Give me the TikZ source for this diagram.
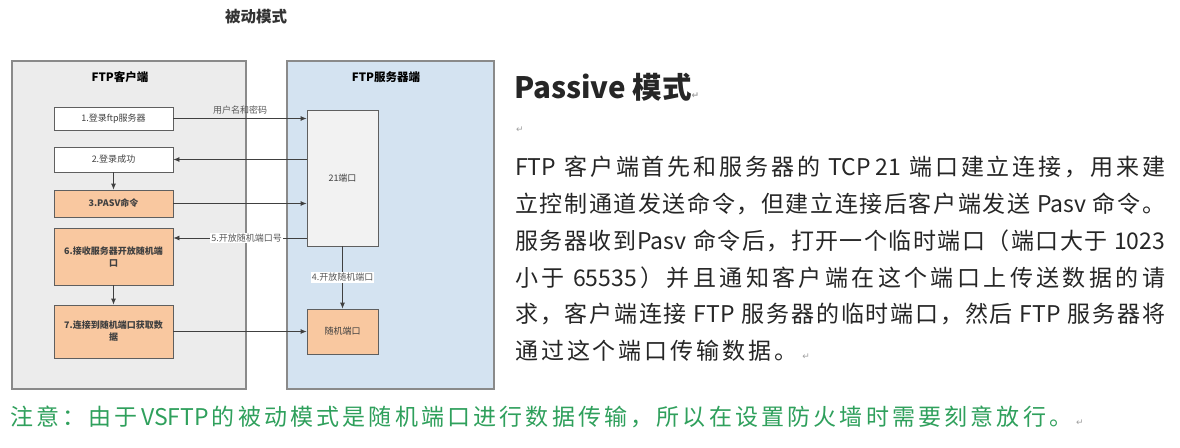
\documentclass[tikz,border=0pt]{standalone}
\usepackage{fontspec}
\setmainfont{Noto Sans CJK SC}
\newfontfamily\cjk{Noto Sans CJK SC}
\newfontfamily\sym{DejaVu Sans}
\usetikzlibrary{arrows.meta}
\definecolor{cliback}{HTML}{ECECEC}
\definecolor{srvback}{HTML}{D4E3F1}
\definecolor{orangebox}{HTML}{F9C8A0}
\definecolor{framegray}{HTML}{8A8A8A}
\definecolor{boxline}{HTML}{5F5F5F}
\definecolor{arrowgray}{HTML}{404040}
\definecolor{notegreen}{HTML}{2FA05C}
\definecolor{markgray}{HTML}{A0A0A0}
\newcommand{\pmark}{{\sym\fontsize{9}{9}\selectfont\textcolor{markgray}{↵}}}
\makeatletter
\def\spreadline#1#2{\hbox to #1{\spr@first#2\@nil}}
\def\spr@first#1{#1\spr@ad}
\def\spr@ad#1{\ifx\@nil#1\@empty\else\hfil#1\expandafter\spr@ad\fi}
\makeatother
\tikzset{
  container/.style={draw=framegray, line width=1.2pt, inner sep=0pt},
  stepbox/.style={draw=boxline, line width=0.8pt, fill=white, inner sep=2pt, align=center,
    font=\fontsize{9}{12}\selectfont, text=black!75},
  orangestep/.style={stepbox, fill=orangebox},
  arr/.style={draw=arrowgray, line width=0.8pt, -{Latex[length=6pt,width=5pt]}},
  lbl/.style={font=\fontsize{9}{10}\selectfont, text=black!65, inner sep=1pt},
  para/.style={anchor=west, inner sep=0pt, font=\fontsize{23}{26}\selectfont, text=black!85}
}
\begin{document}
\begin{tikzpicture}[x=1pt,y=-1pt]
\fill[white] (0,0) rectangle (1180,447);
\useasboundingbox (0,0) rectangle (1180,447);

% title
\node[font=\fontsize{15.5}{17}\selectfont\bfseries, text=black!80] (title) at (256,17) {被动模式};

% containers
\node[container, fill=cliback, minimum width=234pt, minimum height=328pt] (client) at (129,225) {};
\node[container, fill=srvback, minimum width=207pt, minimum height=328pt] (server) at (390.5,225) {};
\node[font=\fontsize{11.5}{13}\selectfont\bfseries] (clititle) at (120,77) {FTP客户端};
\node[font=\fontsize{11.5}{13}\selectfont\bfseries] (srvtitle) at (386,77) {FTP服务器端};

% client steps
\node[stepbox, minimum width=119pt, minimum height=23pt] (b1) at (113.5,118.5) {1.登录ftp服务器};
\node[stepbox, minimum width=119pt, minimum height=25pt] (b2) at (113.5,159.5) {2.登录成功};
\node[orangestep, minimum width=119pt, minimum height=27pt] (b3) at (113.5,203.5) {\bfseries 3.PASV命令};
\node[orangestep, minimum width=119pt, minimum height=57pt, text width=113pt] (b6) at (113.5,256.5) {\bfseries 6.接收服务器开放随机端\\口};
\node[orangestep, minimum width=119pt, minimum height=53pt, text width=113pt] (b7) at (113.5,331.5) {\bfseries 7.连接到随机端口获取数\\据};

% server boxes
\node[stepbox, fill=white!95!black, minimum width=71pt, minimum height=136pt] (p21) at (342.5,178) {21端口};
\node[orangestep, minimum width=71pt, minimum height=45pt] (rp) at (342.5,331.5) {随机端口};

% connectors
\draw[arr] (b1.east) -- node[lbl, above=3pt] {用户名和密码} (b1.east -| p21.west);
\draw[arr] (p21.west |- b2.east) -- (b2.east);
\draw[arr] (b2.south) -- (b3.north);
\draw[arr] (b3.east) -- (b3.east -| p21.west);
\draw[arr] (p21.west |- 0,238) -- node[lbl, fill=white, pos=0.45] {5.开放随机端口号} (b6.east |- 0,238);
\draw[arr] (b6.south) -- (b7.north);
\draw[arr] (p21.south) -- node[lbl, fill=white, pos=0.5] {4.开放随机端口} (rp.north);
\draw[arr] (b7.east) -- (b7.east -| rp.west);

% right text
\node[anchor=west, inner sep=0pt, font=\fontsize{29.5}{31}\selectfont\bfseries, text=black!85] (ptitle) at (514,87) {Passive 模式\pmark};
\node[anchor=west, inner sep=0pt] (blank) at (516,130) {\pmark};
\node[para] (l1) at (515,167) {\spreadline{650pt}{{FTP\ }客户端首先和服务器的{\ TCP\ 21\ }端口建立连接，用来建}};
\node[para] (l2) at (515,204) {\spreadline{650pt}{立控制通道发送命令，但建立连接后客户端发送{\ Pasv\ }命令。}};
\node[para] (l3) at (515,241) {\spreadline{650pt}{服务器收到{Pasv\ }命令后，打开一个临时端口（端口大于{\ 1023}}};
\node[para] (l4) at (515,278) {\spreadline{650pt}{小于{\ 65535}）并且通知客户端在这个端口上传送数据的请}};
\node[para] (l5) at (515,314) {\spreadline{650pt}{求，客户端连接{\ FTP\ }服务器的临时端口，然后{\ FTP\ }服务器将}};
\node[para] (l6) at (515,351) {\spreadline{282pt}{通过这个端口传输数据。}\ \pmark};

% note
\node[anchor=west, inner sep=0pt, font=\fontsize{23}{25}\selectfont, text=notegreen] (note) at (10,417) {\spreadline{1062pt}{注意：由于{VSFTP}的被动模式是随机端口进行数据传输，所以在设置防火墙时需要刻意放行。}\,\pmark};
\end{tikzpicture}
\end{document}
